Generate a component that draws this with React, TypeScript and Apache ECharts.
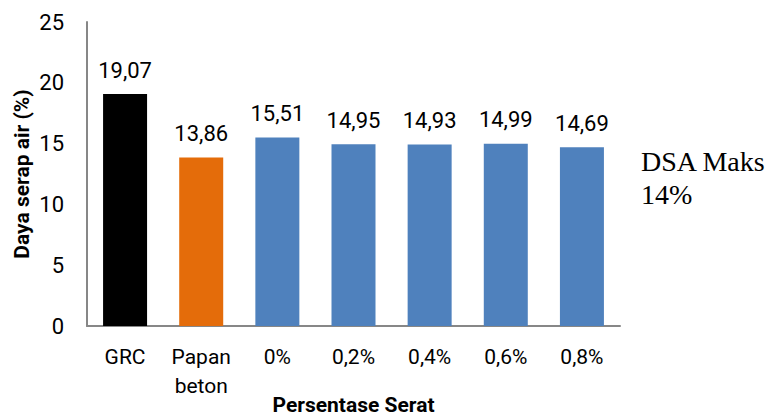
import React, { useEffect, useRef } from "react";
import * as echarts from "echarts";

// Water absorption (%) per board type / fibre percentage
const categories = ["GRC", "Papan\nbeton", "0%", "0,2%", "0,4%", "0,6%", "0,8%"];
const values = [19.07, 13.86, 15.51, 14.95, 14.93, 14.99, 14.69];
const barColors = ["#000000", "#E46C0A", "#4F81BD", "#4F81BD", "#4F81BD", "#4F81BD", "#4F81BD"];
const yTicks = { min: 0, max: 25, interval: 5 };
const noteLines = ["DSA Maks", "14%"];

const sans = "Roboto, 'Liberation Sans', Arial, sans-serif";

export default function App() {
  const ref = useRef<HTMLDivElement>(null);

  useEffect(() => {
    if (!ref.current) return;
    const chart = echarts.init(ref.current, null, { renderer: "svg" });
    chart.setOption({
      animation: false,
      backgroundColor: "#ffffff",
      grid: {
        left: 87,
        right: 150,
        top: 22,
        bottom: 92,
        containLabel: false,
        outerBoundsMode: "none",
      },
      xAxis: {
        type: "category",
        data: categories,
        name: "Persentase Serat",
        nameLocation: "middle",
        nameGap: 79,
        nameMoveOverlap: false,
        nameTextStyle: {
          fontFamily: sans,
          fontSize: 21,
          fontWeight: "bold",
          color: "#000",
          verticalAlign: "middle",
        },
        axisLine: { show: true, lineStyle: { color: "#878787", width: 2 } },
        axisTick: { show: false },
        axisLabel: {
          fontFamily: sans,
          fontSize: 21,
          color: "#000",
          margin: 16,
          lineHeight: 29,
          interval: 0,
        },
      },
      yAxis: {
        type: "value",
        min: yTicks.min,
        max: yTicks.max,
        interval: yTicks.interval,
        name: "Daya serap air (%)",
        nameLocation: "middle",
        nameGap: 55,
        nameMoveOverlap: false,
        nameTextStyle: { fontFamily: sans, fontSize: 21, fontWeight: "bold", color: "#000" },
        axisLine: { show: true, lineStyle: { color: "#878787", width: 2 } },
        axisTick: { show: false },
        splitLine: { show: false },
        axisLabel: { fontFamily: sans, fontSize: 22, color: "#000", margin: 23 },
      },
      series: [
        {
          type: "bar",
          barWidth: 44,
          data: values.map((v, i) => ({ value: v, itemStyle: { color: barColors[i] } })),
          label: {
            show: true,
            position: "top",
            distance: 13,
            fontFamily: sans,
            fontSize: 22,
            color: "#000",
            formatter: (p: any) => Number(p.value).toFixed(2).replace(".", ","),
          },
        },
      ],
      graphic: [
        {
          type: "text",
          left: 641,
          top: 145,
          style: {
            text: noteLines.join("\n"),
            fontFamily: "'Liberation Serif', 'Times New Roman', serif",
            fontSize: 28,
            lineHeight: 33,
            fill: "#000",
          },
        },
      ],
    });
    return () => chart.dispose();
  }, []);

  return (
    <div
      ref={ref}
      style={{ position: "absolute", left: 0, top: 0, width: 770, height: 418 }}
    />
  );
}
